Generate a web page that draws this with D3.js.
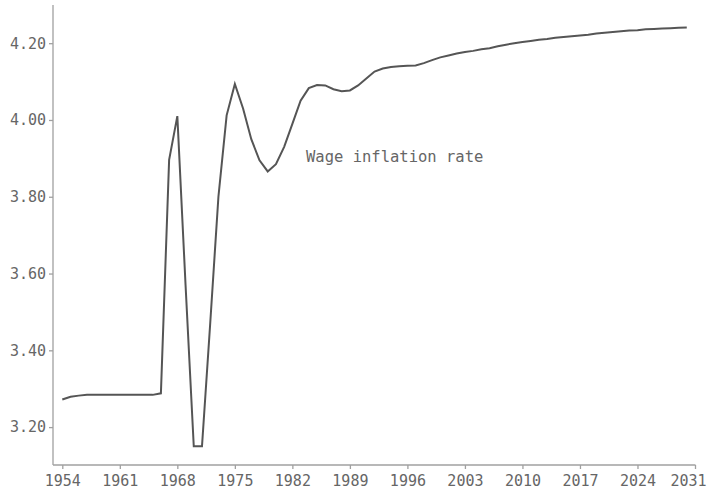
<!DOCTYPE html>
<html>
<head>
<meta charset="utf-8">
<script src="https://cdn.jsdelivr.net/npm/d3@7"></script>
<style>
  html, body { margin: 0; padding: 0; background: #fff; }
  svg { display: block; }
  text { font-family: "DejaVu Sans Mono", "Liberation Mono", monospace; fill: #666; }
</style>
</head>
<body>
<svg id="chart" width="709" height="497"></svg>
<script>
const years = d3.range(1954, 2031);
const wageInflation = [
  3.272, 3.279, 3.282, 3.284, 3.284, 3.284, 3.284, 3.284, 3.284, 3.284, 3.284, 3.284, // 1954-1965
  3.288, 3.896, 4.010, 3.570, 3.150, 3.150, 3.470, 3.800, 4.012, 4.094,               // 1966-1975
  4.030, 3.950, 3.895, 3.866, 3.885, 3.930, 3.990, 4.050, 4.083, 4.091,               // 1976-1985
  4.090, 4.080, 4.075, 4.077, 4.090, 4.108, 4.126, 4.134, 4.138, 4.140,               // 1986-1995
  4.141, 4.142, 4.148, 4.156, 4.163, 4.168, 4.173, 4.177, 4.180, 4.184,               // 1996-2005
  4.187, 4.192, 4.196, 4.200, 4.203, 4.206, 4.209, 4.211, 4.214, 4.216,               // 2006-2015
  4.218, 4.220, 4.222, 4.225, 4.227, 4.229, 4.231, 4.233, 4.234, 4.236,               // 2016-2025
  4.237, 4.238, 4.239, 4.240, 4.241                                                   // 2026-2030
];
const xTicks = [1954, 1961, 1968, 1975, 1982, 1989, 1996, 2003, 2010, 2017, 2024, 2031];
const yTicks = [3.20, 3.40, 3.60, 3.80, 4.00, 4.20];
const seriesLabel = "Wage inflation rate";

const svg = d3.select("#chart");
const axisLeftX = 53, axisBottomY = 465;

const x = d3.scaleLinear().domain([1954, 2031]).range([62.3, 695]);
const y = d3.scaleLinear().domain([3.1, 4.3]).range([465.5, 4.8]);

const data = years.map((yr, i) => ({ year: yr, value: wageInflation[i] }));

// axes lines
svg.append("line")
  .attr("x1", axisLeftX).attr("x2", axisLeftX)
  .attr("y1", 5).attr("y2", axisBottomY)
  .attr("stroke", "#a0a0a0").attr("stroke-width", 1.3);
svg.append("line")
  .attr("x1", axisLeftX).attr("x2", x(2031) + 0.5)
  .attr("y1", axisBottomY).attr("y2", axisBottomY)
  .attr("stroke", "#a0a0a0").attr("stroke-width", 1.3);

// x axis
const xAxis = d3.axisBottom(x).tickValues(xTicks).tickFormat(d3.format("d")).tickSize(4).tickPadding(6);
const gx = svg.append("g").attr("transform", `translate(0,${axisBottomY})`).call(xAxis);
gx.select(".domain").remove();
gx.selectAll(".tick line").attr("stroke", "#a0a0a0").attr("stroke-width", 1.3);
gx.selectAll(".tick text").style("font-size", "15px").attr("fill", "#666")
  .style("font-family", "'DejaVu Sans Mono', monospace");
// keep the last label inside the picture
gx.selectAll(".tick text").filter(d => d === 2031).attr("dx", -7);

// y axis
const yAxis = d3.axisLeft(y).tickValues(yTicks).tickFormat(d3.format(".2f")).tickSize(4).tickPadding(3);
const gy = svg.append("g").attr("transform", `translate(${axisLeftX},0)`).call(yAxis);
gy.select(".domain").remove();
gy.selectAll(".tick line").attr("stroke", "#a0a0a0").attr("stroke-width", 1.3);
gy.selectAll(".tick text").style("font-size", "15px").attr("fill", "#666")
  .style("font-family", "'DejaVu Sans Mono', monospace");

// line
const line = d3.line().x(d => x(d.year)).y(d => y(d.value));
svg.append("path")
  .datum(data)
  .attr("fill", "none")
  .attr("stroke", "#555")
  .attr("stroke-width", 2)
  .attr("stroke-linejoin", "miter")
  .attr("d", line);

// series label
svg.append("text")
  .attr("x", 306).attr("y", 162)
  .style("font-size", "15.5px")
  .attr("fill", "#666")
  .text(seriesLabel);
</script>
</body>
</html>
